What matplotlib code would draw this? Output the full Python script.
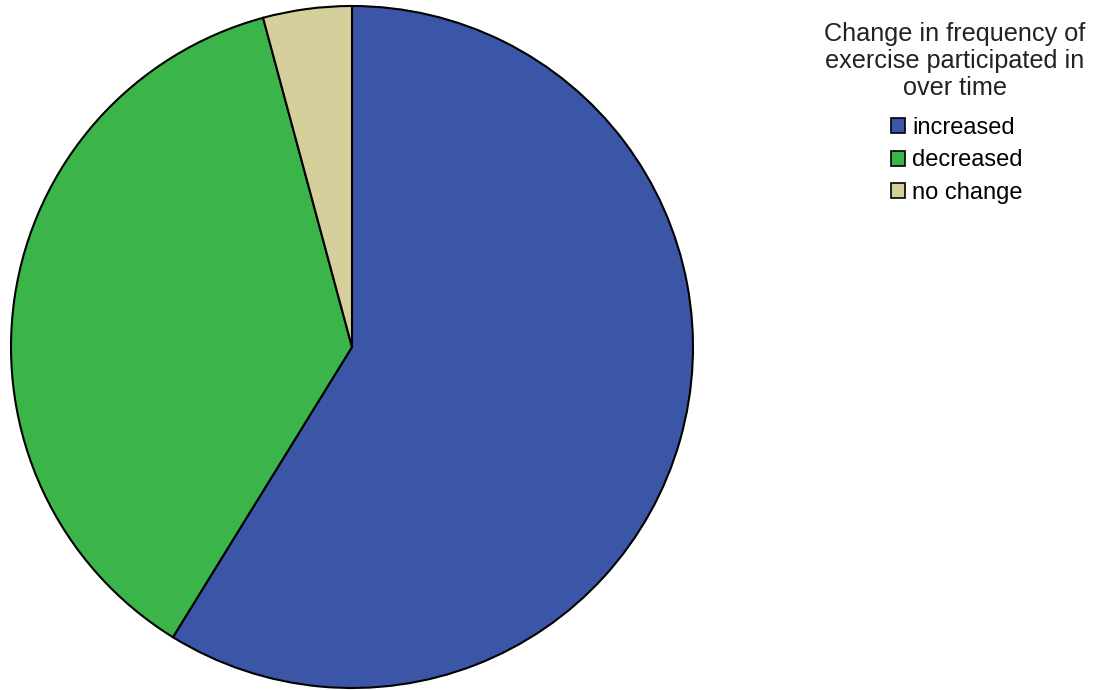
import matplotlib.pyplot as plt
from matplotlib.patches import Patch

plt.rcParams['font.family'] = ['Liberation Sans', 'DejaVu Sans']

labels = ["increased", "decreased", "no change"]
shares = [58.8, 37.0, 4.2]
colours = ["#3b56a6", "#3bb44a", "#d4cf9b"]
legend_title = "Change in frequency of\nexercise participated in\nover time"

W, H = 1096, 690
fig = plt.figure(figsize=(W / 100, H / 100), dpi=100)

# pie centre ~ (352, 347) px, radius ~ 341 px
cx, cy, r = 352, 347, 341
ax = fig.add_axes([(cx - r) / W, (H - cy - r) / H, 2 * r / W, 2 * r / H])
wedges, _ = ax.pie(shares, colors=colours, startangle=90, counterclock=False,
                   wedgeprops=dict(edgecolor="black", linewidth=1.5))
for w in wedges:
    w.set_clip_on(False)
ax.set_xlim(-1, 1)
ax.set_ylim(-1, 1)
ax.set_aspect("equal")
ax.axis("off")

fig.text(955 / W, 1 - 22 / H, legend_title, ha="center", va="top",
         fontsize=18.2, color="#222222", linespacing=1.17)

handles = [Patch(facecolor=c, edgecolor="black", linewidth=1.2) for c in colours]
fig.legend(handles, labels, loc="upper left", bbox_to_anchor=(879 / W, 1 - 105 / H),
           frameon=False, fontsize=17, handlelength=0.6, handleheight=0.6,
           handletextpad=0.3, labelspacing=0.45, borderpad=0)

fig.savefig("out.png", dpi=100)
